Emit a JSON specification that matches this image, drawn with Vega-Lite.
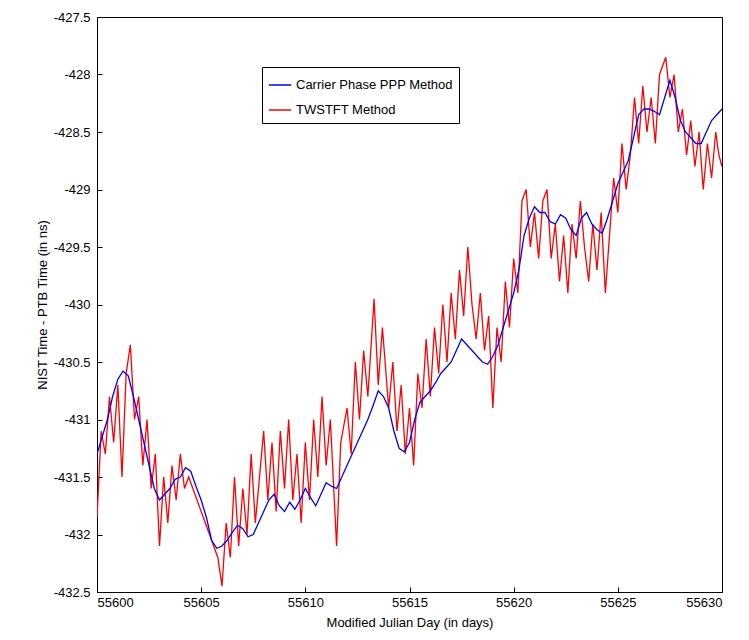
{
  "$schema": "https://vega.github.io/schema/vega-lite/v6.json",
  "autosize": {"type": "none"},
  "padding": {"left": 97, "top": 17, "right": 27, "bottom": 48},
  "width": 625,
  "height": 575,
  "background": "white",
  "config": {
    "font": "Liberation Sans",
    "view": {"stroke": "black", "strokeWidth": 1}
  },
  "data": {"values": [
    {"s":"TWSTFT Method","d":55600.0,"v":-431.85},{"s":"TWSTFT Method","d":55600.2,"v":-431.1},{"s":"TWSTFT Method","d":55600.4,"v":-431.3},{"s":"TWSTFT Method","d":55600.6,"v":-430.8},{"s":"TWSTFT Method","d":55600.8,"v":-431.2},{"s":"TWSTFT Method","d":55601.0,"v":-430.7},{"s":"TWSTFT Method","d":55601.2,"v":-431.5},{"s":"TWSTFT Method","d":55601.4,"v":-430.6},{"s":"TWSTFT Method","d":55601.6,"v":-430.35},{"s":"TWSTFT Method","d":55601.8,"v":-431.0},
    {"s":"TWSTFT Method","d":55602.0,"v":-430.8},{"s":"TWSTFT Method","d":55602.2,"v":-431.4},{"s":"TWSTFT Method","d":55602.4,"v":-431.0},{"s":"TWSTFT Method","d":55602.6,"v":-431.6},{"s":"TWSTFT Method","d":55602.8,"v":-431.3},{"s":"TWSTFT Method","d":55603.0,"v":-432.1},{"s":"TWSTFT Method","d":55603.2,"v":-431.5},{"s":"TWSTFT Method","d":55603.4,"v":-431.9},{"s":"TWSTFT Method","d":55603.6,"v":-431.4},{"s":"TWSTFT Method","d":55603.8,"v":-431.7},
    {"s":"TWSTFT Method","d":55604.0,"v":-431.3},{"s":"TWSTFT Method","d":55604.2,"v":-431.6},{"s":"TWSTFT Method","d":55604.4,"v":-431.5},{"s":"TWSTFT Method","d":55605.8,"v":-432.2},{"s":"TWSTFT Method","d":55606.0,"v":-432.45},{"s":"TWSTFT Method","d":55606.2,"v":-431.9},{"s":"TWSTFT Method","d":55606.4,"v":-432.2},{"s":"TWSTFT Method","d":55606.6,"v":-431.5},{"s":"TWSTFT Method","d":55606.8,"v":-432.1},{"s":"TWSTFT Method","d":55607.0,"v":-431.6},
    {"s":"TWSTFT Method","d":55607.2,"v":-432.0},{"s":"TWSTFT Method","d":55607.4,"v":-431.3},{"s":"TWSTFT Method","d":55607.6,"v":-431.9},{"s":"TWSTFT Method","d":55607.8,"v":-431.5},{"s":"TWSTFT Method","d":55608.0,"v":-431.1},{"s":"TWSTFT Method","d":55608.2,"v":-431.7},{"s":"TWSTFT Method","d":55608.4,"v":-431.2},{"s":"TWSTFT Method","d":55608.6,"v":-431.8},{"s":"TWSTFT Method","d":55608.8,"v":-431.1},{"s":"TWSTFT Method","d":55609.0,"v":-431.6},
    {"s":"TWSTFT Method","d":55609.2,"v":-431.0},{"s":"TWSTFT Method","d":55609.4,"v":-431.7},{"s":"TWSTFT Method","d":55609.6,"v":-431.3},{"s":"TWSTFT Method","d":55609.8,"v":-431.9},{"s":"TWSTFT Method","d":55610.0,"v":-431.2},{"s":"TWSTFT Method","d":55610.2,"v":-431.7},{"s":"TWSTFT Method","d":55610.4,"v":-431.0},{"s":"TWSTFT Method","d":55610.6,"v":-431.5},{"s":"TWSTFT Method","d":55610.8,"v":-430.8},{"s":"TWSTFT Method","d":55611.0,"v":-431.4},
    {"s":"TWSTFT Method","d":55611.2,"v":-431.0},{"s":"TWSTFT Method","d":55611.5,"v":-432.1},{"s":"TWSTFT Method","d":55611.7,"v":-431.2},{"s":"TWSTFT Method","d":55612.0,"v":-430.9},{"s":"TWSTFT Method","d":55612.2,"v":-431.3},{"s":"TWSTFT Method","d":55612.4,"v":-430.5},{"s":"TWSTFT Method","d":55612.6,"v":-431.0},{"s":"TWSTFT Method","d":55612.8,"v":-430.4},{"s":"TWSTFT Method","d":55613.0,"v":-430.8},{"s":"TWSTFT Method","d":55613.3,"v":-429.95},
    {"s":"TWSTFT Method","d":55613.5,"v":-430.7},{"s":"TWSTFT Method","d":55613.7,"v":-430.2},{"s":"TWSTFT Method","d":55614.0,"v":-430.9},{"s":"TWSTFT Method","d":55614.2,"v":-430.5},{"s":"TWSTFT Method","d":55614.4,"v":-431.1},{"s":"TWSTFT Method","d":55614.6,"v":-430.7},{"s":"TWSTFT Method","d":55614.8,"v":-431.3},{"s":"TWSTFT Method","d":55615.0,"v":-430.9},{"s":"TWSTFT Method","d":55615.2,"v":-431.4},{"s":"TWSTFT Method","d":55615.4,"v":-430.6},
    {"s":"TWSTFT Method","d":55615.6,"v":-430.9},{"s":"TWSTFT Method","d":55615.8,"v":-430.3},{"s":"TWSTFT Method","d":55616.0,"v":-430.8},{"s":"TWSTFT Method","d":55616.2,"v":-430.2},{"s":"TWSTFT Method","d":55616.4,"v":-430.6},{"s":"TWSTFT Method","d":55616.6,"v":-430.0},{"s":"TWSTFT Method","d":55616.8,"v":-430.5},{"s":"TWSTFT Method","d":55617.0,"v":-429.9},{"s":"TWSTFT Method","d":55617.2,"v":-430.3},{"s":"TWSTFT Method","d":55617.4,"v":-429.7},
    {"s":"TWSTFT Method","d":55617.6,"v":-430.1},{"s":"TWSTFT Method","d":55617.8,"v":-429.5},{"s":"TWSTFT Method","d":55618.0,"v":-430.0},{"s":"TWSTFT Method","d":55618.2,"v":-430.3},{"s":"TWSTFT Method","d":55618.4,"v":-429.9},{"s":"TWSTFT Method","d":55618.6,"v":-430.4},{"s":"TWSTFT Method","d":55618.8,"v":-430.1},{"s":"TWSTFT Method","d":55619.0,"v":-430.9},{"s":"TWSTFT Method","d":55619.2,"v":-430.2},{"s":"TWSTFT Method","d":55619.4,"v":-430.5},
    {"s":"TWSTFT Method","d":55619.6,"v":-429.8},{"s":"TWSTFT Method","d":55619.8,"v":-430.2},{"s":"TWSTFT Method","d":55620.0,"v":-429.6},{"s":"TWSTFT Method","d":55620.2,"v":-429.9},{"s":"TWSTFT Method","d":55620.4,"v":-429.1},{"s":"TWSTFT Method","d":55620.6,"v":-429.0},{"s":"TWSTFT Method","d":55620.8,"v":-429.5},{"s":"TWSTFT Method","d":55621.0,"v":-429.2},{"s":"TWSTFT Method","d":55621.2,"v":-429.6},{"s":"TWSTFT Method","d":55621.4,"v":-429.1},
    {"s":"TWSTFT Method","d":55621.6,"v":-429.0},{"s":"TWSTFT Method","d":55621.8,"v":-429.6},{"s":"TWSTFT Method","d":55622.0,"v":-429.3},{"s":"TWSTFT Method","d":55622.2,"v":-429.8},{"s":"TWSTFT Method","d":55622.4,"v":-429.4},{"s":"TWSTFT Method","d":55622.6,"v":-429.9},{"s":"TWSTFT Method","d":55622.8,"v":-429.3},{"s":"TWSTFT Method","d":55623.0,"v":-429.6},{"s":"TWSTFT Method","d":55623.2,"v":-429.1},{"s":"TWSTFT Method","d":55623.4,"v":-429.5},
    {"s":"TWSTFT Method","d":55623.6,"v":-429.8},{"s":"TWSTFT Method","d":55623.8,"v":-429.3},{"s":"TWSTFT Method","d":55624.0,"v":-429.7},{"s":"TWSTFT Method","d":55624.2,"v":-429.2},{"s":"TWSTFT Method","d":55624.4,"v":-429.9},{"s":"TWSTFT Method","d":55624.6,"v":-429.4},{"s":"TWSTFT Method","d":55624.8,"v":-428.9},{"s":"TWSTFT Method","d":55625.0,"v":-429.2},{"s":"TWSTFT Method","d":55625.2,"v":-428.6},{"s":"TWSTFT Method","d":55625.4,"v":-429.0},
    {"s":"TWSTFT Method","d":55625.6,"v":-428.7},{"s":"TWSTFT Method","d":55625.8,"v":-428.2},{"s":"TWSTFT Method","d":55626.0,"v":-428.6},{"s":"TWSTFT Method","d":55626.2,"v":-428.1},{"s":"TWSTFT Method","d":55626.4,"v":-428.5},{"s":"TWSTFT Method","d":55626.6,"v":-428.2},{"s":"TWSTFT Method","d":55626.8,"v":-428.6},{"s":"TWSTFT Method","d":55627.0,"v":-428.0},{"s":"TWSTFT Method","d":55627.3,"v":-427.85},{"s":"TWSTFT Method","d":55627.5,"v":-428.2},
    {"s":"TWSTFT Method","d":55627.7,"v":-428.0},{"s":"TWSTFT Method","d":55627.9,"v":-428.5},{"s":"TWSTFT Method","d":55628.1,"v":-428.3},{"s":"TWSTFT Method","d":55628.3,"v":-428.7},{"s":"TWSTFT Method","d":55628.5,"v":-428.4},{"s":"TWSTFT Method","d":55628.7,"v":-428.8},{"s":"TWSTFT Method","d":55628.9,"v":-428.5},{"s":"TWSTFT Method","d":55629.1,"v":-429.0},{"s":"TWSTFT Method","d":55629.3,"v":-428.6},{"s":"TWSTFT Method","d":55629.5,"v":-428.9},
    {"s":"TWSTFT Method","d":55629.7,"v":-428.5},{"s":"TWSTFT Method","d":55629.85,"v":-428.7},{"s":"TWSTFT Method","d":55630.0,"v":-428.8},
    {"s":"Carrier Phase PPP Method","d":55600.0,"v":-431.3},{"s":"Carrier Phase PPP Method","d":55600.25,"v":-431.15},{"s":"Carrier Phase PPP Method","d":55600.5,"v":-431.0},{"s":"Carrier Phase PPP Method","d":55600.75,"v":-430.8},{"s":"Carrier Phase PPP Method","d":55601.0,"v":-430.65},{"s":"Carrier Phase PPP Method","d":55601.25,"v":-430.58},{"s":"Carrier Phase PPP Method","d":55601.5,"v":-430.62},{"s":"Carrier Phase PPP Method","d":55601.75,"v":-430.8},
    {"s":"Carrier Phase PPP Method","d":55602.0,"v":-431.0},{"s":"Carrier Phase PPP Method","d":55602.25,"v":-431.2},{"s":"Carrier Phase PPP Method","d":55602.5,"v":-431.4},{"s":"Carrier Phase PPP Method","d":55602.75,"v":-431.6},{"s":"Carrier Phase PPP Method","d":55603.0,"v":-431.7},{"s":"Carrier Phase PPP Method","d":55603.25,"v":-431.65},{"s":"Carrier Phase PPP Method","d":55603.5,"v":-431.6},{"s":"Carrier Phase PPP Method","d":55603.75,"v":-431.52},
    {"s":"Carrier Phase PPP Method","d":55604.0,"v":-431.5},{"s":"Carrier Phase PPP Method","d":55604.25,"v":-431.42},{"s":"Carrier Phase PPP Method","d":55604.5,"v":-431.45},{"s":"Carrier Phase PPP Method","d":55604.75,"v":-431.58},{"s":"Carrier Phase PPP Method","d":55605.0,"v":-431.7},{"s":"Carrier Phase PPP Method","d":55605.25,"v":-431.85},{"s":"Carrier Phase PPP Method","d":55605.5,"v":-432.05},{"s":"Carrier Phase PPP Method","d":55605.75,"v":-432.12},
    {"s":"Carrier Phase PPP Method","d":55606.0,"v":-432.1},{"s":"Carrier Phase PPP Method","d":55606.25,"v":-432.05},{"s":"Carrier Phase PPP Method","d":55606.5,"v":-431.98},{"s":"Carrier Phase PPP Method","d":55606.75,"v":-431.92},{"s":"Carrier Phase PPP Method","d":55607.0,"v":-431.95},{"s":"Carrier Phase PPP Method","d":55607.25,"v":-432.02},{"s":"Carrier Phase PPP Method","d":55607.5,"v":-432.0},{"s":"Carrier Phase PPP Method","d":55607.75,"v":-431.9},
    {"s":"Carrier Phase PPP Method","d":55608.0,"v":-431.8},{"s":"Carrier Phase PPP Method","d":55608.25,"v":-431.7},{"s":"Carrier Phase PPP Method","d":55608.5,"v":-431.65},{"s":"Carrier Phase PPP Method","d":55608.75,"v":-431.75},{"s":"Carrier Phase PPP Method","d":55609.0,"v":-431.8},{"s":"Carrier Phase PPP Method","d":55609.25,"v":-431.72},{"s":"Carrier Phase PPP Method","d":55609.5,"v":-431.78},{"s":"Carrier Phase PPP Method","d":55609.75,"v":-431.7},
    {"s":"Carrier Phase PPP Method","d":55610.0,"v":-431.6},{"s":"Carrier Phase PPP Method","d":55610.25,"v":-431.68},{"s":"Carrier Phase PPP Method","d":55610.5,"v":-431.75},{"s":"Carrier Phase PPP Method","d":55610.75,"v":-431.65},{"s":"Carrier Phase PPP Method","d":55611.0,"v":-431.55},{"s":"Carrier Phase PPP Method","d":55611.25,"v":-431.58},{"s":"Carrier Phase PPP Method","d":55611.5,"v":-431.6},{"s":"Carrier Phase PPP Method","d":55611.75,"v":-431.5},
    {"s":"Carrier Phase PPP Method","d":55612.0,"v":-431.4},{"s":"Carrier Phase PPP Method","d":55612.25,"v":-431.3},{"s":"Carrier Phase PPP Method","d":55612.5,"v":-431.2},{"s":"Carrier Phase PPP Method","d":55612.75,"v":-431.1},{"s":"Carrier Phase PPP Method","d":55613.0,"v":-431.0},{"s":"Carrier Phase PPP Method","d":55613.25,"v":-430.88},{"s":"Carrier Phase PPP Method","d":55613.5,"v":-430.75},{"s":"Carrier Phase PPP Method","d":55613.75,"v":-430.8},
    {"s":"Carrier Phase PPP Method","d":55614.0,"v":-430.9},{"s":"Carrier Phase PPP Method","d":55614.25,"v":-431.1},{"s":"Carrier Phase PPP Method","d":55614.5,"v":-431.25},{"s":"Carrier Phase PPP Method","d":55614.75,"v":-431.28},{"s":"Carrier Phase PPP Method","d":55615.0,"v":-431.2},{"s":"Carrier Phase PPP Method","d":55615.25,"v":-431.0},{"s":"Carrier Phase PPP Method","d":55615.5,"v":-430.85},{"s":"Carrier Phase PPP Method","d":55615.75,"v":-430.8},
    {"s":"Carrier Phase PPP Method","d":55616.0,"v":-430.75},{"s":"Carrier Phase PPP Method","d":55616.25,"v":-430.68},{"s":"Carrier Phase PPP Method","d":55616.5,"v":-430.6},{"s":"Carrier Phase PPP Method","d":55616.75,"v":-430.55},{"s":"Carrier Phase PPP Method","d":55617.0,"v":-430.5},{"s":"Carrier Phase PPP Method","d":55617.25,"v":-430.4},{"s":"Carrier Phase PPP Method","d":55617.5,"v":-430.3},{"s":"Carrier Phase PPP Method","d":55617.75,"v":-430.35},
    {"s":"Carrier Phase PPP Method","d":55618.0,"v":-430.4},{"s":"Carrier Phase PPP Method","d":55618.25,"v":-430.45},{"s":"Carrier Phase PPP Method","d":55618.5,"v":-430.5},{"s":"Carrier Phase PPP Method","d":55618.75,"v":-430.52},{"s":"Carrier Phase PPP Method","d":55619.0,"v":-430.45},{"s":"Carrier Phase PPP Method","d":55619.25,"v":-430.35},{"s":"Carrier Phase PPP Method","d":55619.5,"v":-430.2},{"s":"Carrier Phase PPP Method","d":55619.75,"v":-430.05},
    {"s":"Carrier Phase PPP Method","d":55620.0,"v":-429.9},{"s":"Carrier Phase PPP Method","d":55620.25,"v":-429.7},{"s":"Carrier Phase PPP Method","d":55620.5,"v":-429.4},{"s":"Carrier Phase PPP Method","d":55620.75,"v":-429.25},{"s":"Carrier Phase PPP Method","d":55621.0,"v":-429.15},{"s":"Carrier Phase PPP Method","d":55621.25,"v":-429.2},{"s":"Carrier Phase PPP Method","d":55621.5,"v":-429.2},{"s":"Carrier Phase PPP Method","d":55621.75,"v":-429.28},
    {"s":"Carrier Phase PPP Method","d":55622.0,"v":-429.3},{"s":"Carrier Phase PPP Method","d":55622.25,"v":-429.22},{"s":"Carrier Phase PPP Method","d":55622.5,"v":-429.25},{"s":"Carrier Phase PPP Method","d":55622.75,"v":-429.35},{"s":"Carrier Phase PPP Method","d":55623.0,"v":-429.4},{"s":"Carrier Phase PPP Method","d":55623.25,"v":-429.25},{"s":"Carrier Phase PPP Method","d":55623.5,"v":-429.2},{"s":"Carrier Phase PPP Method","d":55623.75,"v":-429.3},
    {"s":"Carrier Phase PPP Method","d":55624.0,"v":-429.35},{"s":"Carrier Phase PPP Method","d":55624.25,"v":-429.38},{"s":"Carrier Phase PPP Method","d":55624.5,"v":-429.25},{"s":"Carrier Phase PPP Method","d":55624.75,"v":-429.1},{"s":"Carrier Phase PPP Method","d":55625.0,"v":-428.95},{"s":"Carrier Phase PPP Method","d":55625.25,"v":-428.85},{"s":"Carrier Phase PPP Method","d":55625.5,"v":-428.75},{"s":"Carrier Phase PPP Method","d":55625.75,"v":-428.55},
    {"s":"Carrier Phase PPP Method","d":55626.0,"v":-428.35},{"s":"Carrier Phase PPP Method","d":55626.25,"v":-428.3},{"s":"Carrier Phase PPP Method","d":55626.5,"v":-428.3},{"s":"Carrier Phase PPP Method","d":55626.75,"v":-428.32},{"s":"Carrier Phase PPP Method","d":55627.0,"v":-428.35},{"s":"Carrier Phase PPP Method","d":55627.25,"v":-428.2},{"s":"Carrier Phase PPP Method","d":55627.5,"v":-428.05},{"s":"Carrier Phase PPP Method","d":55627.75,"v":-428.2},
    {"s":"Carrier Phase PPP Method","d":55628.0,"v":-428.4},{"s":"Carrier Phase PPP Method","d":55628.25,"v":-428.5},{"s":"Carrier Phase PPP Method","d":55628.5,"v":-428.55},{"s":"Carrier Phase PPP Method","d":55628.75,"v":-428.6},{"s":"Carrier Phase PPP Method","d":55629.0,"v":-428.6},{"s":"Carrier Phase PPP Method","d":55629.25,"v":-428.5},{"s":"Carrier Phase PPP Method","d":55629.5,"v":-428.4},{"s":"Carrier Phase PPP Method","d":55629.75,"v":-428.35},
    {"s":"Carrier Phase PPP Method","d":55630.0,"v":-428.3}
  ]},
  "mark": {"type": "line", "strokeWidth": 1.3, "clip": true},
  "encoding": {
    "x": {
      "field": "d", "type": "quantitative",
      "scale": {"domain": [55600, 55630], "nice": false, "zero": false},
      "axis": {"title": "Modified Julian Day (in days)", "values": [55600,55605,55610,55615,55620,55625,55630],
        "labelExpr": "'' + datum.value", "grid": false, "domain": false, "tickSize": -5, "tickColor": "black",
        "labelColor": "black", "labelFontSize": 13, "labelPadding": 9, "titleFontSize": 13, "titleFontWeight": "normal", "titleColor": "black", "titlePadding": 7}
    },
    "y": {
      "field": "v", "type": "quantitative",
      "scale": {"domain": [-432.5, -427.5], "nice": false, "zero": false},
      "axis": {"title": "NIST Time - PTB Time (in ns)", "tickCount": 11,
        "labelExpr": "'' + datum.value", "grid": false, "domain": false, "tickSize": -5, "tickColor": "black",
        "labelColor": "black", "labelFontSize": 13, "labelPadding": 12, "titleFontSize": 13, "titleFontWeight": "normal", "titleColor": "black", "titlePadding": 4}
    },
    "color": {
      "field": "s", "type": "nominal",
      "scale": {"domain": ["Carrier Phase PPP Method", "TWSTFT Method"], "range": ["#0000FF", "#FF0000"]},
      "legend": {"title": null, "orient": "none", "legendX": 165, "legendY": 50,
        "symbolType": "stroke", "symbolSize": 500, "symbolStrokeWidth": 1.5, "labelFontSize": 13, "labelColor": "black",
        "strokeColor": "black", "fillColor": "white", "padding": 6, "rowPadding": 6}
    }
  }
}
